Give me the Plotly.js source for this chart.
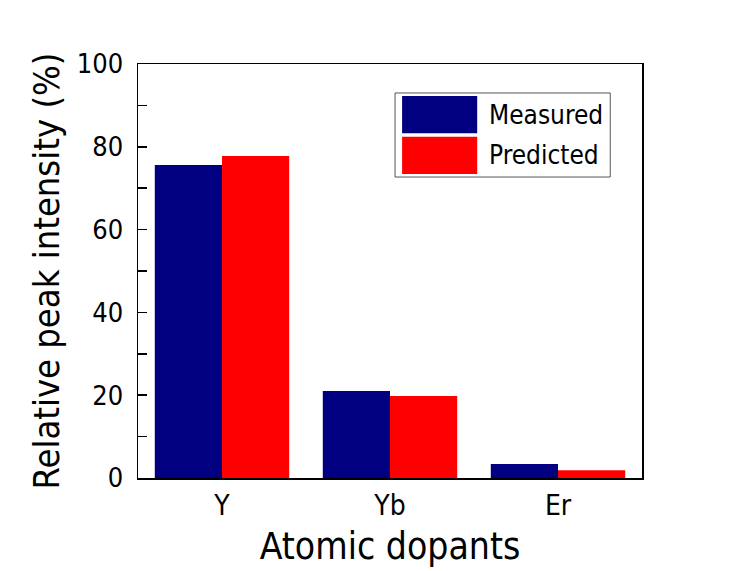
<!DOCTYPE html>
<html><head><meta charset="utf-8">
<script src="https://cdn.plot.ly/plotly-3.0.1.min.js"></script>
<style>body{margin:0;background:#fff}#chart{width:734px;height:571px}</style>
</head><body><div id="chart"></div>
<script>
const categories = ["Y", "Yb", "Er"];
const measured = [75.6, 21.0, 3.4];
const predicted = [77.8, 19.8, 1.9];
const seriesNames = ["Measured", "Predicted"];
const colors = ["#000080", "#FF0000"];
const FONT = "DejaVu Sans Condensed, Liberation Sans Narrow, sans-serif";

const traces = [
  {type: "bar", x: categories, y: measured, name: seriesNames[0], marker: {color: colors[0]}},
  {type: "bar", x: categories, y: predicted, name: seriesNames[1], marker: {color: colors[1]}}
];

const shapes = [
  {type: "rect", xref: "paper", yref: "paper", x0: 0.51, x1: 0.937, y0: 0.727, y1: 0.930,
   line: {color: "#555", width: 1}, fillcolor: "rgba(0,0,0,0)"},
  {type: "rect", xref: "paper", yref: "paper", x0: 0.524, x1: 0.673, y0: 0.833, y1: 0.923,
   line: {width: 0}, fillcolor: colors[0]},
  {type: "rect", xref: "paper", yref: "paper", x0: 0.524, x1: 0.673, y0: 0.734, y1: 0.824,
   line: {width: 0}, fillcolor: colors[1]}
];
const annotations = seriesNames.map((n, i) => ({
  xref: "paper", yref: "paper", x: 0.692, y: i === 0 ? 0.878 : 0.779,
  xanchor: "left", yanchor: "middle", text: n, showarrow: false,
  font: {family: FONT, size: 26, color: "#000"}
}));

const layout = {
  width: 734, height: 571,
  margin: {l: 138, r: 92, t: 64, b: 93},
  paper_bgcolor: "#fff", plot_bgcolor: "#fff",
  barmode: "group", bargap: 0.2, bargroupgap: 0,
  showlegend: false,
  font: {family: FONT, color: "#000"},
  xaxis: {
    range: [-0.5, 2.5], showline: true, linecolor: "#000", linewidth: 1.5, mirror: true,
    ticks: "", showgrid: false, zeroline: false,
    tickfont: {family: FONT, size: 28}, ticklabelstandoff: 2,
    title: {text: "Atomic dopants", font: {family: FONT, size: 37}, standoff: 12}
  },
  yaxis: {
    range: [0, 100], dtick: 20, showline: true, linecolor: "#000", linewidth: 1.5, mirror: true,
    ticks: "inside", ticklen: 9, tickwidth: 1.5, tickcolor: "#000",
    minor: {dtick: 10, ticks: "inside", ticklen: 9, tickwidth: 1.5, tickcolor: "#000"},
    showgrid: false, zeroline: false,
    tickfont: {family: FONT, size: 27}, ticklabelstandoff: 8,
    title: {text: "Relative peak intensity (%)", font: {family: FONT, size: 36}, standoff: 6}
  },
  shapes: shapes,
  annotations: annotations
};
Plotly.newPlot("chart", traces, layout, {displayModeBar: false, staticPlot: true});
</script></body></html>
